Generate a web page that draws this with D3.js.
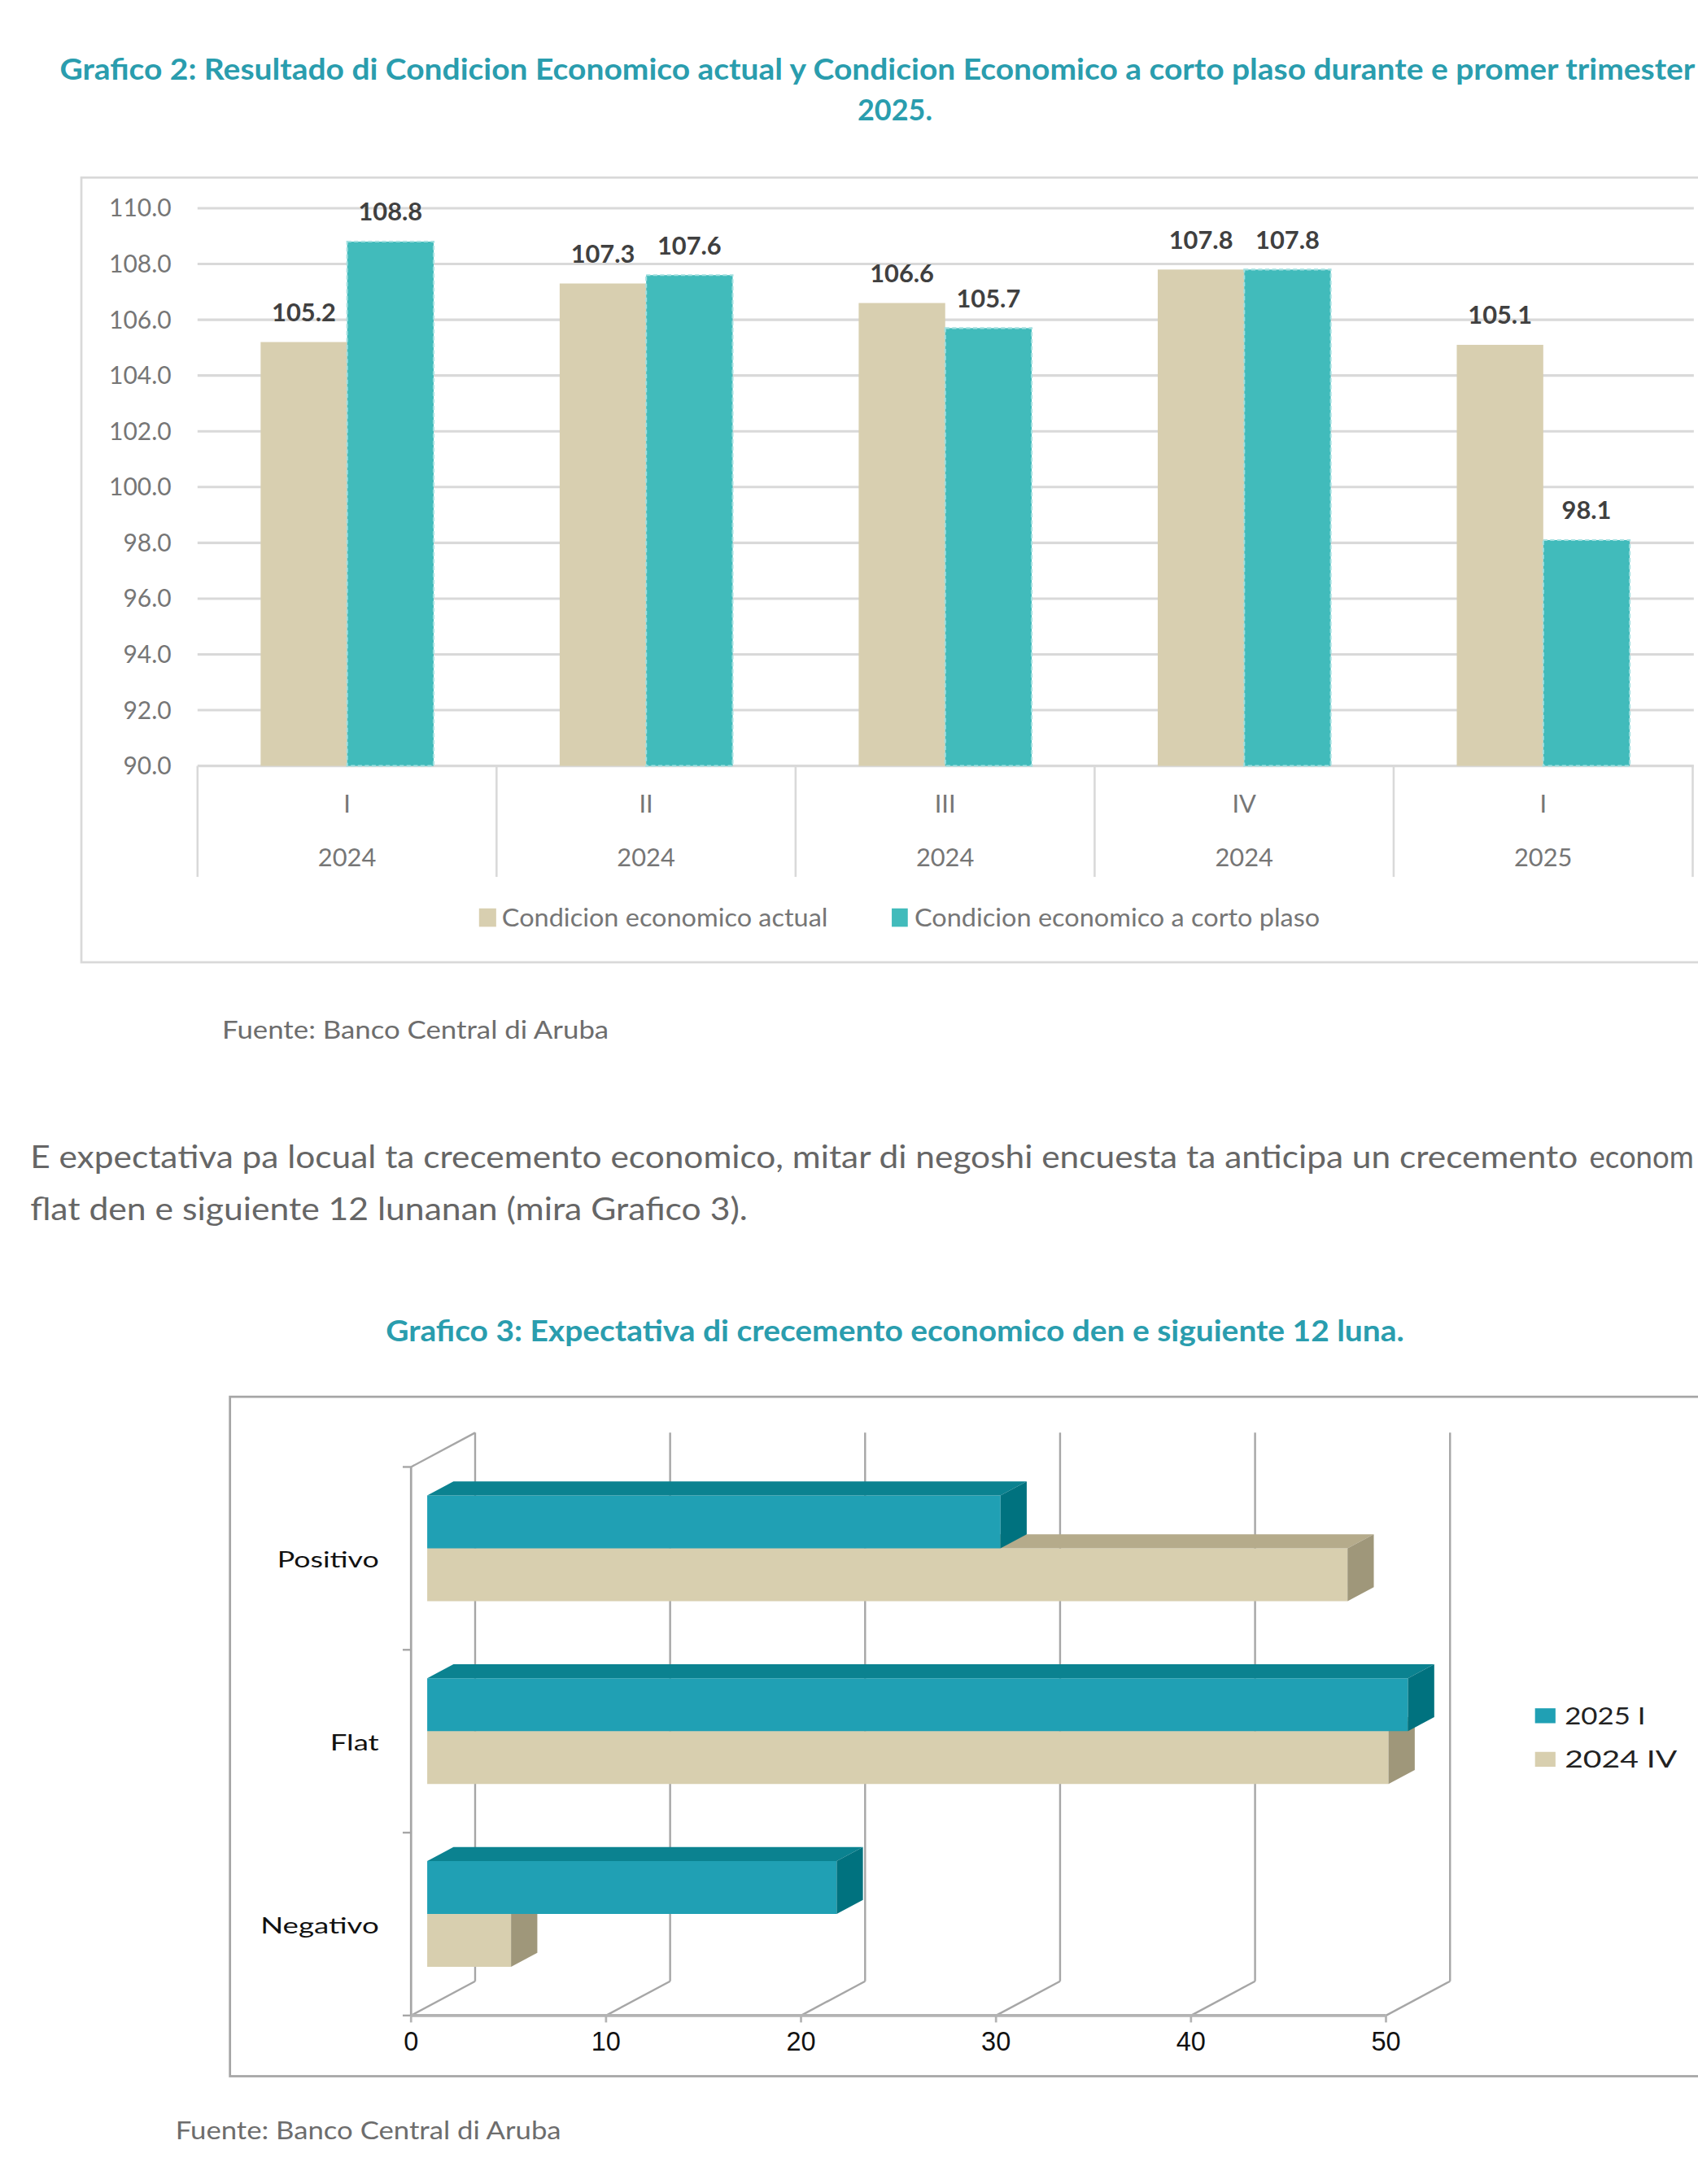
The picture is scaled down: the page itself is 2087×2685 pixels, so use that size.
<!DOCTYPE html>
<html>
<head>
<meta charset="utf-8">
<script src="https://cdn.jsdelivr.net/npm/d3@7"></script>
<style>
  body { margin: 0; background: #fff; }
  svg { display: block; font-family: Lato, "Open Sans", sans-serif; }
</style>
</head>
<body>
<div id="page"></div>
<script>
// Grafico 2 data
const quarters = ["I", "II", "III", "IV", "I"];
const years = ["2024", "2024", "2024", "2024", "2025"];
const actual = [105.2, 107.3, 106.6, 107.8, 105.1];
const cortoPlaso = [108.8, 107.6, 105.7, 107.8, 98.1];
const yTicks = [90, 92, 94, 96, 98, 100, 102, 104, 106, 108, 110];
const seriesNames = ["Condicion economico actual", "Condicion economico a corto plaso"];

// Grafico 3 data
const expCats = ["Positivo", "Flat", "Negativo"];
const exp2025I = [29.4, 50.3, 21.0];
const exp2024IV = [47.2, 49.3, 4.3];
const expTicks = [0, 10, 20, 30, 40, 50];
const expSeries = ["2025 I", "2024 IV"];

// page drawn in a 1219 wide coordinate system, scaled up to 2087px
const W = 1219, H = 1568.3;
const svg = d3.select("#page").append("svg")
  .attr("width", 2087).attr("height", 2685)
  .attr("viewBox", `0 0 ${W} ${H}`);

const titleCol = "#2a9dae";
const tan = "#d8cfb0", tealBar = "#41bbbb";

// ---------- Grafico 2 ----------
svg.append("text")
  .attr("x", 42.9).attr("y", 57.4)
  .attr("textLength", 1174).attr("lengthAdjust", "spacingAndGlyphs")
  .attr("fill", titleCol).attr("font-weight", 700).attr("font-size", 21)
  .text("Grafico 2: Resultado di Condicion Economico actual y Condicion Economico a corto plaso durante e promer trimester");
svg.append("text")
  .attr("x", 642.5).attr("y", 86.7).attr("text-anchor", "middle")
  .attr("fill", titleCol).attr("font-weight", 700).attr("font-size", 21)
  .text("2025.");

svg.append("rect")
  .attr("x", 58.4).attr("y", 127.5).attr("width", 1300).attr("height", 563.5)
  .attr("fill", "none").attr("stroke", "#d9d9d9").attr("stroke-width", 1.6);

const y = d3.scaleLinear().domain([90, 110]).range([550, 149.5]);
const x0 = d3.scaleBand().domain(d3.range(quarters.length)).range([141.8, 1215.2]);
const x1 = d3.scaleBand().domain([0, 1]).range([45.3, 169.5]);

const g1 = svg.append("g");

// gridlines
g1.selectAll("line.grid")
  .data(yTicks)
  .enter().append("line")
  .attr("x1", 141.8).attr("x2", 1216)
  .attr("y1", d => y(d)).attr("y2", d => y(d))
  .attr("stroke", "#d9d9d9").attr("stroke-width", 1.8);

g1.selectAll("text.ylab")
  .data(yTicks)
  .enter().append("text")
  .attr("x", 123).attr("y", d => y(d)).attr("dy", "0.35em")
  .attr("text-anchor", "end").attr("font-size", 17.5).attr("fill", "#767676")
  .text(d => d3.format(".1f")(d));

// bars
const rows = quarters.map((q, i) => [actual[i], cortoPlaso[i]]);
const groups = g1.selectAll("g.grp")
  .data(rows)
  .enter().append("g")
  .attr("transform", (d, i) => `translate(${x0(i)},0)`);

groups.selectAll("rect")
  .data(d => d)
  .enter().append("rect")
  .attr("x", (d, j) => x1(j))
  .attr("width", x1.bandwidth())
  .attr("y", d => y(d))
  .attr("height", d => y(90) - y(d))
  .attr("fill", (d, j) => j === 0 ? tan : tealBar)
  .attr("stroke", (d, j) => j === 0 ? "none" : "#a3e0e0")
  .attr("stroke-width", 1.2)
  .attr("stroke-dasharray", "3 2");

groups.selectAll("text")
  .data(d => d)
  .enter().append("text")
  .attr("x", (d, j) => x1(j) + x1.bandwidth() / 2)
  .attr("y", d => y(d) - 15)
  .attr("text-anchor", "middle")
  .attr("font-size", 18).attr("font-weight", 700).attr("fill", "#404040")
  .text(d => d3.format(".1f")(d));

// category axis (two levels)
const seps = d3.range(quarters.length + 1).map(i => i < quarters.length ? x0(i) : x0.range()[1]);
g1.selectAll("line.sep")
  .data(seps)
  .enter().append("line")
  .attr("x1", d => d).attr("x2", d => d)
  .attr("y1", 550).attr("y2", 629.7)
  .attr("stroke", "#d9d9d9").attr("stroke-width", 1.5);

g1.selectAll("text.q")
  .data(quarters)
  .enter().append("text")
  .attr("x", (d, i) => x0(i) + x0.bandwidth() / 2).attr("y", 577).attr("dy", "0.35em")
  .attr("text-anchor", "middle").attr("font-size", 18).attr("fill", "#767676")
  .text(d => d);

g1.selectAll("text.yr")
  .data(years)
  .enter().append("text")
  .attr("x", (d, i) => x0(i) + x0.bandwidth() / 2).attr("y", 616).attr("dy", "0.35em")
  .attr("text-anchor", "middle").attr("font-size", 18).attr("fill", "#767676")
  .text(d => d);

// legend
const leg1 = [
  {name: seriesNames[0], col: tan, sx: 343.9, sw: 12.3, tx: 360.3, tl: 234},
  {name: seriesNames[1], col: tealBar, sx: 640.2, sw: 11.5, tx: 656.5, tl: 291}
];
leg1.forEach(l => {
  g1.append("rect").attr("x", l.sx).attr("y", 652.3).attr("width", l.sw).attr("height", 13.2).attr("fill", l.col);
  g1.append("text").attr("x", l.tx).attr("y", 665.5)
    .attr("textLength", l.tl).attr("lengthAdjust", "spacingAndGlyphs")
    .attr("font-size", 18).attr("fill", "#767676").text(l.name);
});

svg.append("text")
  .attr("x", 159.5).attr("y", 746)
  .attr("textLength", 277.5).attr("lengthAdjust", "spacingAndGlyphs")
  .attr("font-size", 18).attr("fill", "#6d6d6d")
  .text("Fuente: Banco Central di Aruba");

// paragraph (the page is cut at the right edge, as in the source)
svg.append("text")
  .attr("x", 21.7).attr("y", 839)
  .attr("textLength", 1111).attr("lengthAdjust", "spacingAndGlyphs")
  .attr("font-size", 22).attr("fill", "#666")
  .text("E expectativa pa locual ta crecemento economico, mitar di negoshi encuesta ta anticipa un crecemento");
svg.append("text")
  .attr("x", 1141).attr("y", 839)
  .attr("textLength", 75).attr("lengthAdjust", "spacingAndGlyphs")
  .attr("font-size", 22).attr("fill", "#666")
  .text("econom");
svg.append("text")
  .attr("x", 21.7).attr("y", 876)
  .attr("textLength", 515).attr("lengthAdjust", "spacingAndGlyphs")
  .attr("font-size", 22).attr("fill", "#666")
  .text("flat den e siguiente 12 lunanan (mira Grafico 3).");

// ---------- Grafico 3 ----------
svg.append("text")
  .attr("x", 277).attr("y", 963)
  .attr("textLength", 731).attr("lengthAdjust", "spacingAndGlyphs")
  .attr("fill", titleCol).attr("font-weight", 700).attr("font-size", 21)
  .text("Grafico 3: Expectativa di crecemento economico den e siguiente 12 luna.");

svg.append("rect")
  .attr("x", 165.1).attr("y", 1003).attr("width", 1200).attr("height", 487.9)
  .attr("fill", "none").attr("stroke", "#a6a6a6").attr("stroke-width", 1.6);

const xe = d3.scaleLinear().domain([0, 50]).range([295.1, 995]);
const ye = d3.scaleBand().domain(expCats).range([1053.4, 1447.3]);
const ys = d3.scaleBand().domain(expSeries).range([26.6, 102.6]);
const depth = [46, -24.6];
const f0 = 0.252, f1 = 0.662;   // front and back of the bars, as share of the depth
const proj = (v, yy, f) => [xe(v) + f * depth[0], yy + f * depth[1]];
const yTop = ye.range()[0], yBot = ye.range()[1];

const g2 = svg.append("g");
const gridCol = "#a6a6a6";

// back wall gridlines
g2.selectAll("line.back")
  .data(expTicks)
  .enter().append("line")
  .attr("x1", d => proj(d, yTop, 1)[0]).attr("y1", d => proj(d, yTop, 1)[1])
  .attr("x2", d => proj(d, yBot, 1)[0]).attr("y2", d => proj(d, yBot, 1)[1])
  .attr("stroke", gridCol).attr("stroke-width", 1.4);

// floor gridlines
g2.selectAll("line.floor")
  .data(expTicks)
  .enter().append("line")
  .attr("x1", d => proj(d, yBot, 0)[0]).attr("y1", d => proj(d, yBot, 0)[1])
  .attr("x2", d => proj(d, yBot, 1)[0]).attr("y2", d => proj(d, yBot, 1)[1])
  .attr("stroke", gridCol).attr("stroke-width", 1.4);

// left wall edges
g2.append("line")
  .attr("x1", proj(0, yTop, 0)[0]).attr("y1", proj(0, yTop, 0)[1])
  .attr("x2", proj(0, yTop, 1)[0]).attr("y2", proj(0, yTop, 1)[1])
  .attr("stroke", gridCol).attr("stroke-width", 1.4);
g2.append("line")
  .attr("x1", proj(0, yTop, 0)[0]).attr("y1", yTop)
  .attr("x2", proj(0, yBot, 0)[0]).attr("y2", yBot)
  .attr("stroke", gridCol).attr("stroke-width", 1.6);

// category ticks
g2.selectAll("line.ctick")
  .data(expCats.map(c => ye(c)).concat([yBot]))
  .enter().append("line")
  .attr("x1", xe(0) - 6).attr("x2", xe(0))
  .attr("y1", d => d).attr("y2", d => d)
  .attr("stroke", gridCol).attr("stroke-width", 1.4);

// front axis line and ticks
g2.append("line")
  .attr("x1", xe(0)).attr("x2", xe(50)).attr("y1", yBot).attr("y2", yBot)
  .attr("stroke", "#b3b3b3").attr("stroke-width", 2.2);
g2.selectAll("line.xtick")
  .data(expTicks)
  .enter().append("line")
  .attr("x1", d => xe(d)).attr("x2", d => xe(d))
  .attr("y1", yBot).attr("y2", yBot + 5)
  .attr("stroke", "#b3b3b3").attr("stroke-width", 1.6);

g2.selectAll("text.xlab")
  .data(expTicks)
  .enter().append("text")
  .attr("x", d => xe(d)).attr("y", 1466).attr("dy", "0.35em")
  .attr("text-anchor", "middle")
  .attr("font-family", "'Liberation Sans', Arial, sans-serif")
  .attr("font-size", 19).attr("fill", "#111")
  .text(d => d);

const catLen = {Positivo: 73, Flat: 35, Negativo: 85};
g2.selectAll("text.clab")
  .data(expCats)
  .enter().append("text")
  .attr("x", 272).attr("y", d => ye(d) + ye.bandwidth() / 2 + 1).attr("dy", "0.35em")
  .attr("text-anchor", "end")
  .attr("textLength", d => catLen[d]).attr("lengthAdjust", "spacingAndGlyphs")
  .attr("font-size", 16).attr("fill", "#111")
  .text(d => d);

// 3D bars: the 2024 IV bar is drawn first, the 2025 I bar over it
const faces = {
  "2025 I":  {front: "#20a0b4", top: "#0b8290", side: "#00727f"},
  "2024 IV": {front: "#d8cfaf", top: "#b5ab8b", side: "#9f977a"}
};
const bars = [];
expCats.forEach((c, i) => {
  bars.push({cat: c, s: "2024 IV", v: exp2024IV[i]});
  bars.push({cat: c, s: "2025 I", v: exp2025I[i]});
});
const pts = arr => arr.map(p => p.join(",")).join(" ");

const bg = g2.selectAll("g.bar")
  .data(bars)
  .enter().append("g");

bg.append("polygon")
  .attr("points", d => {
    const t = ye(d.cat) + ys(d.s), b = t + ys.bandwidth();
    return pts([proj(0, t, f0), proj(d.v, t, f0), proj(d.v, b, f0), proj(0, b, f0)]);
  })
  .attr("fill", d => faces[d.s].front);
bg.append("polygon")
  .attr("points", d => {
    const t = ye(d.cat) + ys(d.s);
    return pts([proj(0, t, f0), proj(d.v, t, f0), proj(d.v, t, f1), proj(0, t, f1)]);
  })
  .attr("fill", d => faces[d.s].top);
bg.append("polygon")
  .attr("points", d => {
    const t = ye(d.cat) + ys(d.s), b = t + ys.bandwidth();
    return pts([proj(d.v, t, f0), proj(d.v, t, f1), proj(d.v, b, f1), proj(d.v, b, f0)]);
  })
  .attr("fill", d => faces[d.s].side);

// legend
const leg2 = [
  {name: expSeries[0], y: 1226.7, tl: 58},
  {name: expSeries[1], y: 1258, tl: 80.7}
];
leg2.forEach(l => {
  g2.append("rect").attr("x", 1102).attr("y", l.y).attr("width", 14.7).attr("height", 10.7)
    .attr("fill", faces[l.name].front);
  g2.append("text").attr("x", 1123.3).attr("y", l.y + 5.4).attr("dy", "0.35em")
    .attr("textLength", l.tl).attr("lengthAdjust", "spacingAndGlyphs")
    .attr("font-size", 17).attr("fill", "#222").text(l.name);
});

svg.append("text")
  .attr("x", 126).attr("y", 1536)
  .attr("textLength", 276.8).attr("lengthAdjust", "spacingAndGlyphs")
  .attr("font-size", 18).attr("fill", "#6d6d6d")
  .text("Fuente: Banco Central di Aruba");
</script>
</body>
</html>
